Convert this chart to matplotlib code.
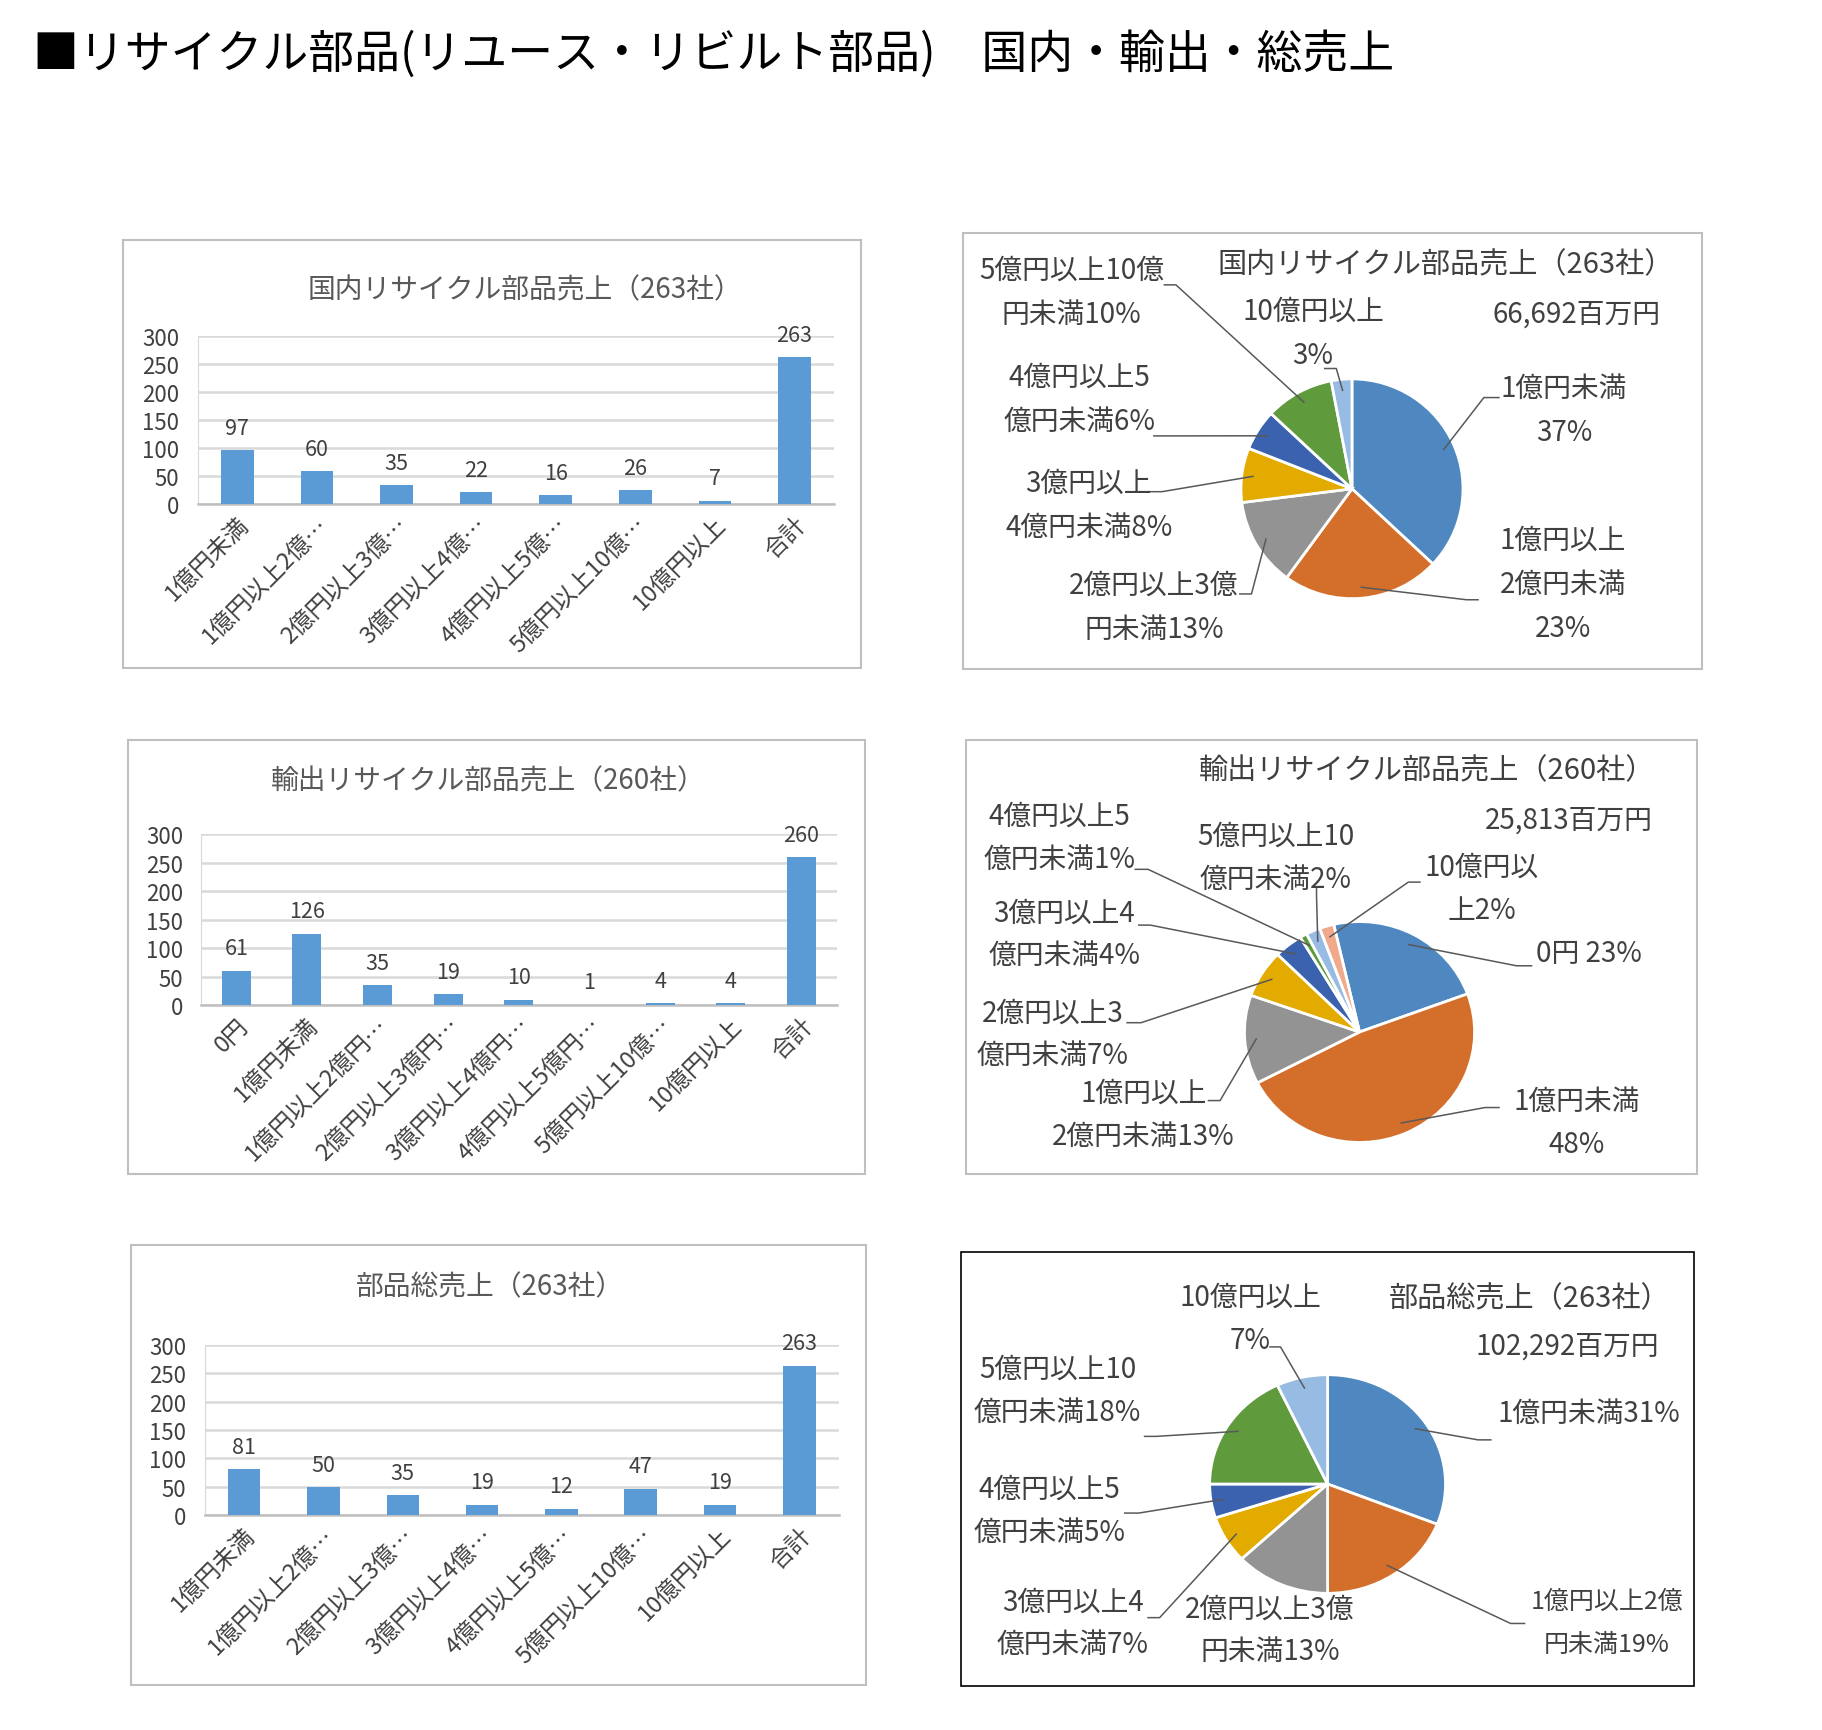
import matplotlib
matplotlib.use("Agg")
import matplotlib.pyplot as plt
from matplotlib.patches import Rectangle
from matplotlib.lines import Line2D
import numpy as np

plt.rcParams['font.family'] = ['Noto Sans CJK JP', 'DejaVu Sans']

# ---- data ----
main_title = "■リサイクル部品(リユース・リビルト部品)　国内・輸出・総売上"

dom_cats = ["1億円未満", "1億円以上2億…", "2億円以上3億…", "3億円以上4億…",
            "4億円以上5億…", "5億円以上10億…", "10億円以上", "合計"]
dom_counts = [97, 60, 35, 22, 16, 26, 7, 263]

exp_cats = ["0円", "1億円未満", "1億円以上2億円…", "2億円以上3億円…", "3億円以上4億円…",
            "4億円以上5億円…", "5億円以上10億…", "10億円以上", "合計"]
exp_counts = [61, 126, 35, 19, 10, 1, 4, 4, 260]

tot_cats = dom_cats
tot_counts = [81, 50, 35, 19, 12, 47, 19, 263]

dom_share = [37, 23, 13, 8, 6, 10, 3]
dom_labels = ["1億円未満\n37%", "1億円以上\n2億円未満\n23%", "2億円以上3億\n円未満13%",
              "3億円以上\n4億円未満8%", "4億円以上5\n億円未満6%", "5億円以上10億\n円未満10%",
              "10億円以上\n3%"]

exp_share = [23, 48, 13, 7, 4, 1, 2, 2]
exp_labels = ["0円 23%", "1億円未満\n48%", "1億円以上\n2億円未満13%", "2億円以上3\n億円未満7%",
              "3億円以上4\n億円未満4%", "4億円以上5\n億円未満1%", "5億円以上10\n億円未満2%",
              "10億円以\n上2%"]

tot_share = [31, 19, 13, 7, 5, 18, 7]
tot_labels = ["1億円未満31%", "1億円以上2億\n円未満19%", "2億円以上3億\n円未満13%",
              "3億円以上4\n億円未満7%", "4億円以上5\n億円未満5%", "5億円以上10\n億円未満18%",
              "10億円以上\n7%"]

dom_title = "国内リサイクル部品売上（263社）"
exp_title = "輸出リサイクル部品売上（260社）"
tot_title = "部品総売上（263社）"
dom_total = "66,692百万円"
exp_total = "25,813百万円"
tot_total = "102,292百万円"

# ---- styles ----
bar_color = '#5B9BD5'
pie_colors = ['#4F88C0', '#D36F2A', '#939393', '#E3AA00', '#3A62AE', '#5F9A3C', '#97BBE2', '#F0A98A']
txt = '#404040'

fig = plt.figure(figsize=(18.22, 17.31), dpi=100)

GW = 1568.0
GH = GW * 1731 / 1822


def fx(x):
    return x / GW


def fy(y):
    return 1 - y / GH


def box(x0, y0, x1, y1, color='#BFBFBF', lw=1.5):
    fig.patches.append(Rectangle((fx(x0), fy(y1)), fx(x1) - fx(x0), fy(y0) - fy(y1),
                                 transform=fig.transFigure, fill=False,
                                 edgecolor=color, linewidth=lw))


def bar_chart(area, cats, vals, title, title_xy):
    x0, y0, x1, y1 = area
    ax = fig.add_axes([fx(x0), fy(y1), fx(x1) - fx(x0), fy(y0) - fy(y1)])
    x = np.arange(len(cats))
    ax.bar(x, vals, width=0.41, color=bar_color, zorder=3)
    ax.set_xlim(-0.5, len(cats) - 0.5)
    ax.set_ylim(0, 300)
    ax.set_yticks(range(0, 301, 50))
    ax.yaxis.grid(True, color='#D9D9D9', linewidth=1.8, zorder=0)
    ax.set_axisbelow(True)
    ax.spines['top'].set_visible(False)
    ax.spines['right'].set_visible(False)
    ax.spines['left'].set_color('#D9D9D9')
    ax.spines['bottom'].set_color('#BFBFBF')
    ax.spines['bottom'].set_linewidth(1.8)
    ax.tick_params(length=0, labelsize=16, labelcolor=txt)
    ax.tick_params(axis='y', pad=13)
    ax.tick_params(axis='x', pad=6)
    ax.set_xticks(x)
    ax.set_xticklabels(cats, rotation=45, ha='right', rotation_mode='anchor', fontsize=17)
    for xi, v in zip(x, vals):
        ax.annotate(str(v), (xi, v), xytext=(0, 16), textcoords='offset points',
                    ha='center', va='center', fontsize=15.5, color=txt)
    fig.text(fx(title_xy[0]), fy(title_xy[1]), title, ha='center', va='center',
             fontsize=20, color='#595959')


def pie_chart(bbox, shares, start, labels, label_pos, gap, leaders, sizes):
    x0, y0, x1, y1 = bbox
    ax = fig.add_axes([fx(x0), fy(y1), fx(x1) - fx(x0), fy(y0) - fy(y1)])
    wedges, _ = ax.pie(shares, colors=pie_colors[:len(shares)], startangle=start,
                       counterclock=False,
                       wedgeprops=dict(edgecolor='white', linewidth=2))
    ax.set_aspect('auto')
    ax.set_xlim(-1.01, 1.01)
    ax.set_ylim(-1.01, 1.01)
    inv = fig.transFigure.inverted()
    for w, lab, pos, lead, fs in zip(wedges, labels, label_pos, leaders, sizes):
        lines = lab.split("\n")
        for k, line in enumerate(lines):
            fig.text(fx(pos[0]), fy(pos[1] + k * gap), line, ha='center', va='center',
                     fontsize=fs, color=txt)
        if lead is None:
            continue
        mid = np.deg2rad((w.theta1 + w.theta2) / 2)
        p = inv.transform(ax.transData.transform((0.9 * np.cos(mid), 0.9 * np.sin(mid))))
        xs = [fx(a) for a, b in lead] + [p[0]]
        ys = [fy(b) for a, b in lead] + [p[1]]
        fig.lines.append(Line2D(xs, ys, transform=fig.transFigure, color='#595959', linewidth=1.1))


fig.text(fx(28), fy(47), main_title, ha='left', va='center', fontsize=33, color='black')

# boxes
box(106, 207, 741, 576)
box(829, 201, 1465, 577)
box(110, 638, 744, 1011)
box(831, 638, 1460, 1011)
box(113, 1072, 745, 1451)
box(827, 1078, 1458, 1452, color='black', lw=1.2)

# bar charts
bar_chart((170, 290, 718, 435), dom_cats, dom_counts, dom_title, (452, 250))
bar_chart((173, 719, 720, 866), exp_cats, exp_counts, exp_title, (420, 672))
bar_chart((176, 1158, 722, 1305), tot_cats, tot_counts, tot_title, (422, 1108))

# pie 1
pie_chart((1067, 326, 1260, 517), dom_share, 90, dom_labels,
          [(1346, 335), (1345, 465), (993, 504), (937, 416), (929, 325), (922, 233), (1130, 268)],
          38,
          [[(1290, 343), (1277, 343)], [(1272, 517), (1262, 517)], [(1067, 512), (1077, 512)],
           [(990, 424), (1000, 424)], [(993, 376), (1003, 376)], [(1002, 246), (1012, 246)],
           [(1140, 318), (1150, 318)]],
          [20] * 7)
fig.text(fx(1244), fy(228), dom_title, ha='center', va='center', fontsize=21, color=txt)
fig.text(fx(1357), fy(271), dom_total, ha='center', va='center', fontsize=20, color=txt)

# pie 2
pie_chart((1070, 793, 1270, 985), exp_share, 103, exp_labels,
          [(1367, 821), (1357, 948), (984, 941), (906, 872), (916, 786), (912, 703), (1098, 720), (1275, 747)],
          37,
          [[(1318, 832), (1305, 832)], [(1290, 954), (1278, 954)], [(1040, 948), (1050, 948)],
           [(970, 881), (982, 881)], [(980, 797), (990, 797)], [(977, 749), (988, 749)],
           [(1133, 765), (1133, 772)], [(1222, 760), (1212, 760)]],
          [20] * 8)
fig.text(fx(1228), fy(664), exp_title, ha='center', va='center', fontsize=21, color=txt)
fig.text(fx(1350), fy(706), exp_total, ha='center', va='center', fontsize=20, color=txt)

# pie 3
pie_chart((1040, 1183, 1245, 1373), tot_share, 90, tot_labels,
          [(1367, 1217), (1383, 1379), (1093, 1385), (923, 1379), (903, 1282), (910, 1179), (1076, 1117)],
          37,
          [[(1283, 1240), (1272, 1240)], [(1312, 1398), (1300, 1398)], None,
           [(988, 1393), (998, 1393)], [(968, 1303), (980, 1303)], [(985, 1237), (995, 1237)],
           [(1093, 1160), (1102, 1160)]],
          [20, 18, 20, 20, 20, 20, 20])
fig.text(fx(1316), fy(1118), tot_title, ha='center', va='center', fontsize=21, color=txt)
fig.text(fx(1349), fy(1159), tot_total, ha='center', va='center', fontsize=20, color=txt)

fig.savefig("out.png", dpi=100)
